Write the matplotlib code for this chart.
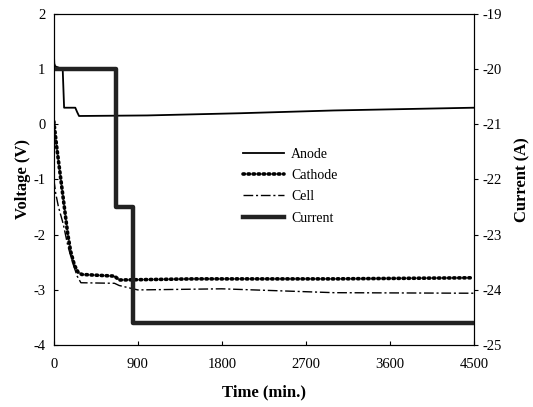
import numpy as np
import matplotlib.pyplot as plt

plt.rcParams['font.family'] = ['Liberation Serif', 'DejaVu Serif']
plt.rcParams['axes.unicode_minus'] = False

t_anode = [0, 5, 15, 60, 95, 110, 230, 250, 270, 1000, 2000, 3000, 4500]
v_anode = [1.3, 1.1, 1.05, 1.02, 1.0, 0.3, 0.3, 0.22, 0.15, 0.16, 0.2, 0.25, 0.3]

t_cathode = [0, 30, 60, 90, 120, 150, 180, 220, 260, 300, 650, 700, 1500, 3000, 4500]
v_cathode = [0.05, -0.4, -0.8, -1.2, -1.6, -2.0, -2.3, -2.55, -2.68, -2.72, -2.75, -2.82, -2.8, -2.8, -2.78]

t_cell = [0, 20, 50, 100, 150, 200, 250, 290, 650, 700, 850, 900, 1800, 3000, 4500]
v_cell = [-1.0, -1.25, -1.5, -1.8, -2.2, -2.5, -2.75, -2.87, -2.88, -2.92, -2.98, -3.0, -2.98, -3.05, -3.06]

t_current = [0, 670, 670, 850, 850, 4500]
i_current = [-20.0, -20.0, -22.5, -22.5, -24.6, -24.6]

fig = plt.figure(figsize=(5.33, 4.07), dpi=100)
ax = fig.add_axes([0.101, 0.152, 0.788, 0.814])
ax2 = ax.twinx()

ax.plot(t_anode, v_anode, color='black', lw=1.3, label='Anode')
ax.plot(t_cathode, v_cathode, color='black', lw=2.6, ls=(0, (0.4, 1.0)),
        dash_capstyle='round', label='Cathode')
ax.plot(t_cell, v_cell, color='black', lw=1.0, ls=(0, (7, 2, 1.5, 2)), label='Cell')
line_cur, = ax2.plot(t_current, i_current, color='#222222', lw=3.2, label='Current')

ax.set_xlim(0, 4500)
ax.set_ylim(-4, 2)
ax2.set_ylim(-25, -19)
ax.set_xticks(np.arange(0, 4501, 900))
ax.set_yticks(np.arange(-4, 3, 1))
ax2.set_yticks(np.arange(-25, -18, 1))

ax.tick_params(labelsize=10.5, length=3, direction='in')
ax.tick_params(axis='x', pad=9)
ax.tick_params(axis='y', pad=6)
ax2.tick_params(labelsize=10.5, length=3, direction='out')

ax.set_xlabel('Time (min.)', fontsize=12, fontweight='bold', labelpad=10)
ax.set_ylabel('Voltage (V)', fontsize=12, fontweight='bold', labelpad=2)
ax2.set_ylabel('Current (A)', fontsize=12, fontweight='bold', labelpad=9)

handles = ax.get_lines() + [line_cur]
ax.legend(handles, [h.get_label() for h in handles], frameon=False,
          loc='center left', bbox_to_anchor=(0.42, 0.48), fontsize=10,
          handlelength=3.0, handletextpad=0.5, labelspacing=0.6)

fig.savefig('out.png', dpi=100)
